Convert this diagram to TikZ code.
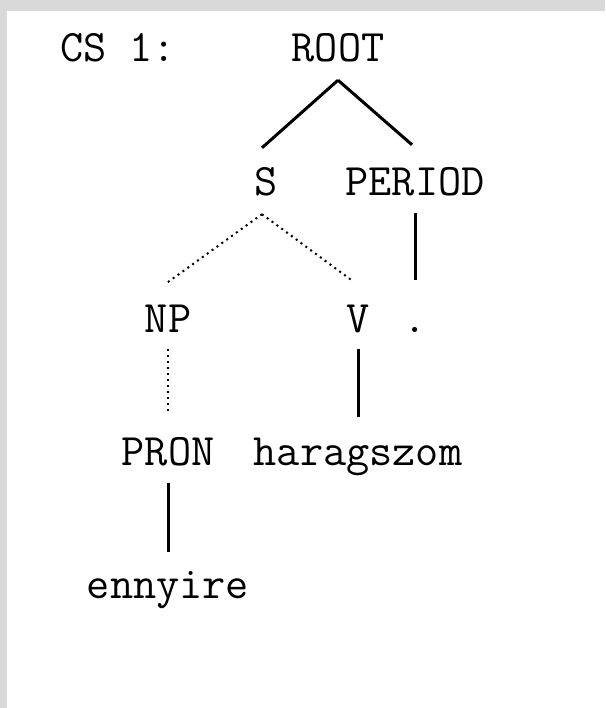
\documentclass[tikz,border=0pt]{standalone}
\usepackage{fontspec}
\tikzstyle{tag}=[font=\ttfamily\fontsize{45pt}{45pt}\selectfont, inner sep=0pt, text height=27pt, text depth=0pt, anchor=base]
\tikzstyle{branch}=[line width=3pt]
\tikzstyle{dotbranch}=[line width=2pt, dash pattern=on 2pt off 4pt]

\begin{document}
\begin{tikzpicture}[x=1pt, y=-1pt]
% Frame
    \fill[gray!30] (0,0) rectangle (605,708);
    \fill[white] (7,11) rectangle (605,708);
    \useasboundingbox (0,0) rectangle (605,708);
% Labels
    \node[tag] (cs) at (118,62) {CS 1:};
    \node[tag] (root) at (338,62) {ROOT};
    \node[tag] (s) at (266,196) {S};
    \node[tag] (period) at (415,196) {PERIOD};
    \node[tag] (np) at (168,332) {NP};
    \node[tag] (v) at (358,332) {V};
    \node[tag] (dot) at (415,332) {.};
    \node[tag] (pron) at (168,465) {PRON};
    \node[tag] (harag) at (358,465) {haragszom};
    \node[tag] (ennyire) at (168,598) {ennyire};
% Solid branches
    \draw[branch] ([yshift=-18pt]root.south) -- ([xshift=-4pt, yshift=21pt]s.north);
    \draw[branch] ([yshift=-18pt]root.south) -- ([xshift=-3pt, yshift=24pt]period.north);
    \draw[branch] ([yshift=-17pt]period.south) -- ([yshift=25pt]dot.north);
    \draw[branch] ([yshift=-17pt]v.south) -- ([yshift=21pt]harag.north);
    \draw[branch] ([yshift=-18pt]pron.south) -- ([yshift=19pt]ennyire.north);
% Dotted branches
    \draw[dotbranch] ([xshift=-4pt, yshift=-18pt]s.south) -- ([xshift=-1pt, yshift=22pt]np.north);
    \draw[dotbranch] ([xshift=-4pt, yshift=-18pt]s.south) -- ([xshift=-7pt, yshift=25pt]v.north);
    \draw[dotbranch] ([yshift=-17pt]np.south) -- ([yshift=26pt]pron.north);
\end{tikzpicture}
\end{document}
